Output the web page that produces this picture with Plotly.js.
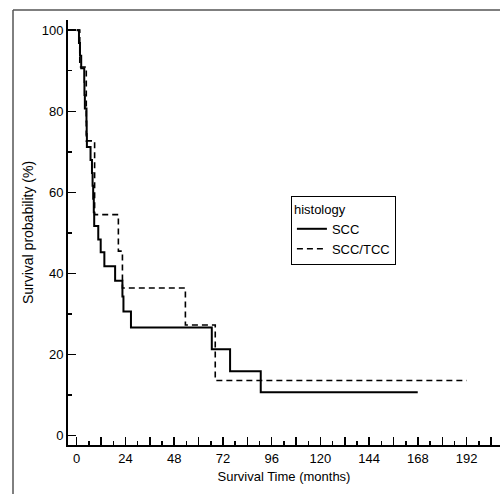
<!DOCTYPE html>
<html>
<head>
<meta charset="utf-8">
<script src="https://cdn.plot.ly/plotly-3.0.1.min.js"></script>
<style>html,body{margin:0;padding:0;background:#fff;}#chart{width:500px;height:494px;}</style>
</head>
<body>
<div id="chart"></div>
<script>
// SCC (solid) Kaplan-Meier steps: time (months) and survival (%)
const sccTime = [0, 1.1, 1.6, 2.2, 3.7, 3.8, 4.0, 4.8, 4.9, 5.0, 6.8, 7.5, 7.8, 8.1, 8.4, 8.6, 10.6, 11.8, 13.6, 18.9, 22.5, 23.0, 26.7, 66.5, 75.5, 90.6, 167.9];
const sccSurv = [100, 96.8, 93.7, 90.6, 87.2, 84.0, 80.7, 77.5, 74.4, 71.2, 68.0, 64.8, 61.6, 58.4, 55.1, 51.7, 48.4, 45.2, 41.8, 38.2, 34.3, 30.6, 26.7, 21.3, 15.9, 10.7, 10.7];
// SCC/TCC (dashed)
const tccTime = [0, 1.5, 4.7, 8.8, 20.5, 22.5, 53.5, 68.2, 192];
const tccSurv = [100, 90.9, 72.7, 54.5, 45.5, 36.4, 27.3, 13.6, 13.6];

const xTickVals = [0,12,24,36,48,60,72,84,96,108,120,132,144,156,168,180,192,204];
const xTickText = ['0','','24','','48','','72','','96','','120','','144','','168','','192',''];
const yTickVals = [0,20,40,60,80,100];

const font = {family: 'Liberation Sans, Arial, sans-serif', size: 13, color: '#000'};

const traces = [
  {x: sccTime, y: sccSurv, name: 'SCC', mode: 'lines', line: {shape: 'hv', color: '#000', width: 2}},
  {x: tccTime, y: tccSurv, name: 'SCC/TCC', mode: 'lines', line: {shape: 'hv', color: '#000', width: 1.6, dash: '6px,4px'}}
];

const layout = {
  width: 500, height: 494,
  margin: {l: 68, r: 0, t: 20, b: 49},
  paper_bgcolor: '#fff', plot_bgcolor: '#fff',
  font: font,
  showlegend: true,
  legend: {
    x: 0.516, y: 0.586, xanchor: 'left', yanchor: 'top',
    bordercolor: '#000', borderwidth: 1, bgcolor: '#fff',
    title: {text: 'histology', font: font},
    font: font, tracegroupgap: 0
  },
  xaxis: {
    range: [-4.3, 208.4],
    tickmode: 'array', tickvals: xTickVals, ticktext: xTickText,
    ticks: 'inside', ticklen: 8, tickwidth: 1.5, tickcolor: '#000',
    minor: {dtick: 6, tick0: 0, ticks: 'inside', ticklen: 4, tickwidth: 1.5, tickcolor: '#000'},
    showline: true, linecolor: '#000', linewidth: 2,
    showgrid: false, zeroline: false,
    tickfont: font,
    title: {text: 'Survival Time (months)', font: font, standoff: 7}
  },
  yaxis: {
    range: [-2.3, 102.5],
    tickmode: 'array', tickvals: yTickVals,
    ticks: 'inside', ticklen: 8, tickwidth: 1.5, tickcolor: '#000',
    minor: {dtick: 10, tick0: 0, ticks: 'inside', ticklen: 4, tickwidth: 1.5, tickcolor: '#000'},
    showline: true, linecolor: '#000', linewidth: 2,
    showgrid: false, zeroline: false,
    tickfont: font,
    title: {text: 'Survival probability (%)', font: {family: font.family, size: 14, color: '#000'}, standoff: 5}
  },
  shapes: [
    {type: 'line', xref: 'paper', yref: 'paper', x0: -0.1273, x1: -0.1273, y0: 1.0235, y1: -0.2, line: {color: '#555', width: 1.5}},
    {type: 'line', xref: 'paper', yref: 'paper', x0: -0.1273, x1: 1.05, y0: 1.0235, y1: 1.0235, line: {color: '#555', width: 1.5}}
  ]
};

Plotly.newPlot('chart', traces, layout, {displayModeBar: false, staticPlot: true});
</script>
</body>
</html>
